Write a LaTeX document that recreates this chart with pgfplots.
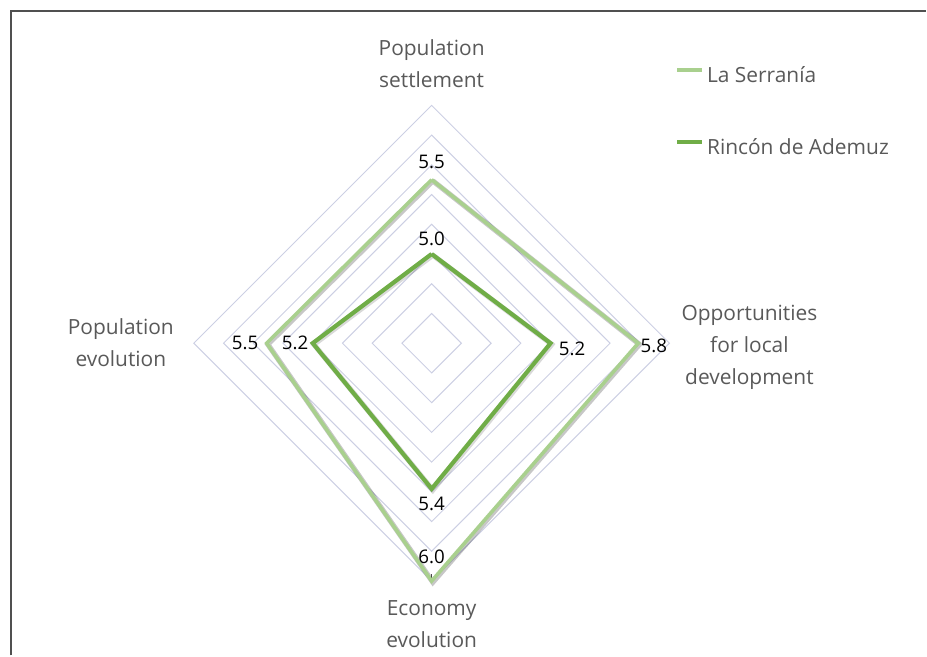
\documentclass[border=0pt]{standalone}
\usepackage{fontspec}
\setmainfont{Open Sans}
\usepackage{pgfplots}
\usepackage{pgfplotstable}
\pgfplotsset{compat=1.18}
\definecolor{serr}{RGB}{169,208,142}
\definecolor{rinc}{RGB}{112,173,71}
\definecolor{gridc}{RGB}{204,207,227}
\definecolor{txt}{RGB}{89,89,89}
\definecolor{frm}{RGB}{80,80,80}

% angle (deg), value
\pgfplotstableread{
ang v
90 5.50
0 5.79
270 6.00
180 5.51
90 5.50
}\serrania
\pgfplotstableread{
ang v
90 5.00
0 5.20
270 5.38
180 5.20
90 5.00
}\rincon

% #1 table, #2 index, #3 index+1, #4 anchor, #5 extra shift
\newcommand{\lab}[5]{%
  \addplot[labsty, skip coords between index={0}{#2},
    skip coords between index={#3}{10},
    every node near coord/.append style={anchor=#4,#5}]
    table[x=ang, y expr=\thisrow{v}-4.4, meta=v] {#1};}

\begin{document}
\begin{tikzpicture}
\begin{axis}[
  x=74.375bp, y=74.375bp, scale only axis, hide axis, clip=false,
  xmin=-2.904, xmax=3.328, ymin=-2.101, ymax=2.309,
  legend style={draw=none, fill=none, at={(axis cs:1.634,1.862)}, anchor=north west,
    inner sep=0pt, row sep=26bp,
    nodes={inner sep=0pt, text height=8bp, text depth=2bp, font=\fontsize{10.5}{12}\selectfont, text=txt},
    /tikz/every odd column/.append style={column sep=1.5bp}},
  legend cell align=left,
  legend image code/.code={\draw[#1] (0bp,3.5bp) -- (12.5bp,3.5bp);},
  labsty/.style={draw=none, mark=none, forget plot, data cs=polar,
    point meta=explicit,
    nodes near coords={\pgfmathprintnumber[fixed,fixed zerofill,precision=1,assume math mode=true]{\pgfplotspointmeta}},
    every node near coord/.append style={font=\fontsize{9.4}{11}\selectfont, text=black, inner sep=4bp}},
]
% frame (top and left edges)
\path (rel axis cs:0,0) rectangle (rel axis cs:1,1);
\draw[frm, line width=0.7bp] (axis cs:-2.830,-2.101) -- (axis cs:-2.830,2.235) -- (axis cs:3.328,2.235);
% grid rings
\pgfplotsinvokeforeach{0.2,0.4,0.6,0.8,1.0,1.2,1.4,1.6}{
  \draw[gridc, line width=0.5bp] (axis cs:0,#1) -- (axis cs:#1,0) -- (axis cs:0,-#1) -- (axis cs:-#1,0) -- cycle;
}
\draw[frm, line width=0.5bp] (axis cs:0,-1.6) -- (axis cs:0,-1.553);

% shadows
\addplot[forget plot, data cs=polar, mark=none, black, opacity=0.22, line width=2.6bp, xshift=0.6bp, yshift=-0.6bp]
  table[x=ang, y expr=\thisrow{v}-4.4] {\serrania};
\addplot[forget plot, data cs=polar, mark=none, black, opacity=0.15, line width=2.6bp, xshift=0.6bp, yshift=-0.6bp]
  table[x=ang, y expr=\thisrow{v}-4.4] {\rincon};

% series
\addplot[data cs=polar, mark=none, serr, line width=1.8bp, line join=miter]
  table[x=ang, y expr=\thisrow{v}-4.4] {\serrania};
\addlegendentry{La Serranía}
\addplot[data cs=polar, mark=none, rinc, line width=2.1bp, line join=miter]
  table[x=ang, y expr=\thisrow{v}-4.4] {\rincon};
\addlegendentry{Rincón de Ademuz}

% data labels
\lab{\serrania}{0}{1}{south}{yshift=1.5bp}
\lab{\serrania}{1}{2}{west}{xshift=-3bp,yshift=-1.5bp}
\lab{\serrania}{2}{3}{south}{yshift=4.4bp}
\lab{\serrania}{3}{4}{east}{}
\lab{\rincon}{0}{1}{south}{}
\lab{\rincon}{1}{2}{west}{yshift=-3bp}
\lab{\rincon}{2}{3}{north}{}
\lab{\rincon}{3}{4}{east}{xshift=2bp}

% category labels
\begin{scope}[every node/.style={align=center, text=txt, font=\fontsize{10.5}{16}\selectfont}]
\node at (axis cs:0,1.882) {Population\\settlement};
\node at (axis cs:2.138,-0.03) {Opportunities\\for local\\development};
\node at (axis cs:-2.091,0.003) {Population\\evolution};
\node at (axis cs:0,-1.889) {Economy\\evolution};
\end{scope}
\end{axis}
\end{tikzpicture}
\end{document}
